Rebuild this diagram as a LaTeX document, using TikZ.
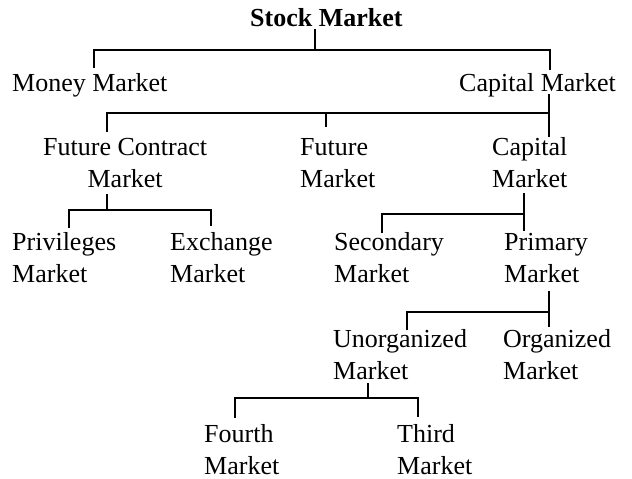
\documentclass[tikz,border=0pt]{standalone}
\usepackage{fontspec}
\setmainfont{Liberation Serif}

\tikzset{
  mkt/.style = {anchor = base west, inner sep = 0pt, align = left,
    font = \fontsize{26}{31.5}\selectfont},
  bracket/.style = {line width = 2.2pt}
}

\begin{document}
\begin{tikzpicture}[x = 1pt, y = -1pt]
\useasboundingbox (0, 0) rectangle (632, 479);

% two-line nodes sit on the baseline of their last line
\node[mkt, font = \fontsize{26}{31.5}\selectfont\bfseries] (stock) at (250, 27) {Stock Market};
\node[mkt] (money) at (12, 91) {Money Market};
\node[mkt] (capm) at (459, 91) {Capital Market};

\node[mkt, align = center] (fc) at (43, 187) {Future Contract\\Market};
\node[mkt] (fut) at (300, 187) {Future\\Market};
\node[mkt] (cap) at (492, 187) {Capital\\Market};

\node[mkt] (priv) at (12, 282) {Privileges\\Market};
\node[mkt] (exch) at (170, 282) {Exchange\\Market};
\node[mkt] (sec) at (334, 282) {Secondary\\Market};
\node[mkt] (prim) at (504, 282) {Primary\\Market};

\node[mkt] (unorg) at (333, 379) {Unorganized\\Market};
\node[mkt] (org) at (503, 379) {Organized\\Market};

\node[mkt] (fourth) at (204, 474) {Fourth\\Market};
\node[mkt] (third) at (397, 474) {Third\\Market};

% stock market
\coordinate (stock-up) at (315, 29);
\coordinate (bar1) at (315, 50);
\coordinate (money-up) at (94, 68);
\coordinate (capm-up) at (550, 70);
\draw[bracket] (stock-up) -- (bar1);
\draw[bracket] (money-up) |- (bar1) -| (capm-up);

% capital market
\coordinate (capm-down) at (549, 94);
\coordinate (bar2) at (549, 113);
\coordinate (fc-up) at (107, 132);
\coordinate (fut-up) at (326, 127);
\coordinate (cap-up) at (549, 137);
\draw[bracket] (capm-down) -- (cap-up);
\draw[bracket] (fc-up) |- (bar2);
\draw[bracket] (fut-up) -- (fut-up |- bar2);

% future contract market
\coordinate (fc-down) at (107, 194);
\coordinate (bar3) at (107, 210);
\coordinate (priv-up) at (69, 228);
\coordinate (exch-up) at (211, 226);
\draw[bracket] (fc-down) -- (bar3);
\draw[bracket] (priv-up) |- (bar3) -| (exch-up);

% capital
\coordinate (cap-down) at (524, 193);
\coordinate (bar4) at (524, 214);
\coordinate (sec-up) at (382, 233);
\coordinate (prim-up) at (524, 231);
\draw[bracket] (cap-down) -- (prim-up);
\draw[bracket] (sec-up) |- (bar4);

% primary market
\coordinate (prim-down) at (549, 291);
\coordinate (bar5) at (549, 312);
\coordinate (unorg-up) at (407, 330);
\coordinate (org-up) at (549, 327);
\draw[bracket] (prim-down) -- (org-up);
\draw[bracket] (unorg-up) |- (bar5);

% unorganized market
\coordinate (unorg-down) at (368, 383);
\coordinate (bar6) at (368, 398);
\coordinate (fourth-up) at (235, 418);
\coordinate (third-up) at (418, 417);
\draw[bracket] (unorg-down) -- (bar6);
\draw[bracket] (fourth-up) |- (bar6) -| (third-up);
\end{tikzpicture}
\end{document}
